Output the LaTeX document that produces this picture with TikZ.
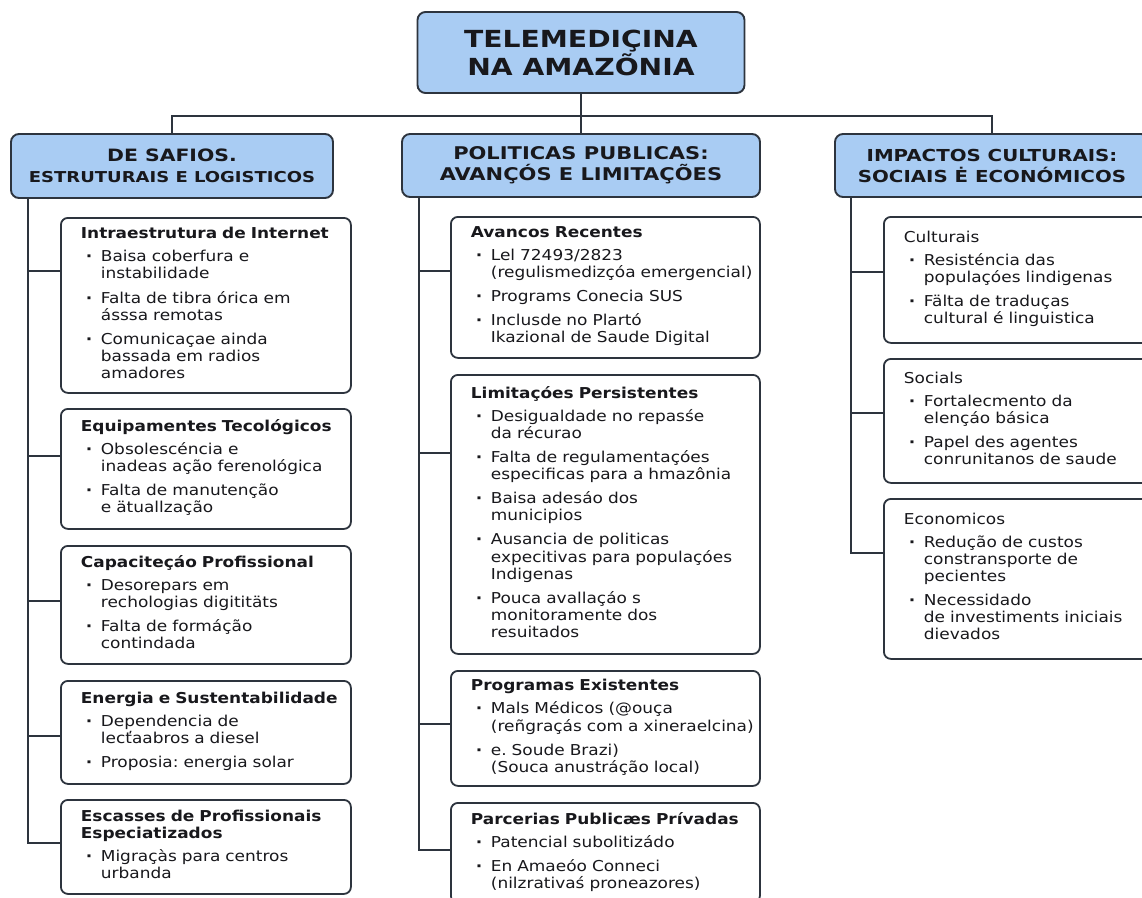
\documentclass[tikz,border=0pt]{standalone}
\usepackage{fontspec}
\setmainfont{DejaVu Sans}[FakeStretch=1.13]
\newfontfamily\headfont{DejaVu Sans}[FakeStretch=1.2]
\usepackage{tikz}
\usetikzlibrary{positioning, calc}
\definecolor{headblue}{RGB}{169,204,243}
\definecolor{edge}{RGB}{45,52,62}
\definecolor{ink}{RGB}{24,24,28}
\tikzstyle{head}=[draw=edge, line width=1.9pt, fill=headblue, rounded corners=8pt, align=center, text=ink, inner sep=0pt]
\tikzstyle{card}=[draw=edge, line width=1.8pt, fill=white, rounded corners=7pt, anchor=north west, align=left, text=ink, inner xsep=20pt, inner ysep=0pt, font=\fontsize{15}{17}\selectfont]
\tikzstyle{lcard}=[card, text width=250pt]
\tikzstyle{mcard}=[card, text width=269pt]
\tikzstyle{rcard}=[card, text width=235pt]
\tikzstyle{link}=[draw=edge, line width=1.8pt]
\newcommand\ttl[1]{\mbox{\bfseries #1}}
\newcommand\itm[1]{\makebox[20pt][l]{\hspace{5pt}\textbf{·}}\begin{tabular}[t]{@{}l@{}}#1\end{tabular}}
\frenchspacing

\begin{document}
\begin{tikzpicture}[x=1pt, y=-1pt]
    \useasboundingbox (0,0) rectangle (1142,897);

    % top and the three branches
    \node[head, minimum width=327pt, minimum height=81pt,
          font=\headfont\bfseries\fontsize{23.5}{28}\selectfont] (titulo) at (581,52.5)
        {TELEMEDIÇINA\\NA AMAZÕNIA};
    \node[head, minimum width=322pt, minimum height=64pt,
          font=\headfont\bfseries\fontsize{17}{21}\selectfont] (desafios) at (172,166)
        {DE SAFIOS.\\{\fontsize{15}{17}\selectfont ESTRUTURAIS E LOGISTICOS}};
    \node[head, minimum width=358pt, minimum height=63pt,
          font=\headfont\bfseries\fontsize{17.5}{21}\selectfont] (politicas) at (581,165.5)
        {POLITICAS PUBLICAS:\\AVANÇÓS E LIMITAÇÕES};
    \node[head, minimum width=314pt, minimum height=63pt,
          font=\headfont\bfseries\fontsize{16.5}{21}\selectfont] (impactos) at (992,165.5)
        {IMPACTOS CULTURAIS:\\SOCIAIS Ė ECONÓMICOS};

    % left column
    \node[lcard, minimum height=175pt] (l1) at (60,217) {\ttl{Intraestrutura de Internet}\\[6pt]
        \itm{Baisa coberfura e\\instabilidade}\\[6pt]
        \itm{Falta de tibra órica em\\ásssa remotas}\\[6pt]
        \itm{Comunicaçae ainda\\bassada em radios\\amadores}};
    \node[lcard, minimum height=120pt] (l2) at (60,408) {\ttl{Equipamentes Tecológicos}\\[6pt]
        \itm{Obsolescéncia e\\inadeas ação ferenológica}\\[6pt]
        \itm{Falta de manutenção\\e ätuallzação}};
    \node[lcard, minimum height=118pt] (l3) at (60,545) {\ttl{Capaciteçáo Profissional}\\[6pt]
        \itm{Desorepars em\\rechologias digititäts}\\[6pt]
        \itm{Falta de formáção\\contindada}};
    \node[lcard, minimum height=103pt] (l4) at (60,680) {\ttl{Energia e Sustentabilidade}\\[6pt]
        \itm{Dependencia de\\lecťaabros a diesel}\\[6pt]
        \itm{Proposia: energia solar}};
    \node[lcard, minimum height=94pt] (l5) at (60,799) {\ttl{Escasses de Profissionais}\\\ttl{Especiatizados}\\[6pt]
        \itm{Migraçàs para centros\\urbanda}};

    % middle column
    \node[mcard, minimum height=141pt] (m1) at (450,216) {\ttl{Avancos Recentes}\\[6pt]
        \itm{Lel 72493/2823\\(regulismedizçóa emergencial)}\\[6pt]
        \itm{Programs Conecia SUS}\\[6pt]
        \itm{Inclusde no Plartó\\Ikazional de Saude Digital}};
    \node[mcard, minimum height=279pt] (m2) at (450,374) {\ttl{Limitaçóes Persistentes}\\[6pt]
        \itm{Desigualdade no repasśe\\da récurao}\\[6pt]
        \itm{Falta de regulamentaçóes\\especificas para a hmazônia}\\[6pt]
        \itm{Baisa adesáo dos\\municipios}\\[6pt]
        \itm{Ausancia de politicas\\expecitivas para populaçóes\\Indigenas}\\[6pt]
        \itm{Pouca avallaçáo s\\monitoramente dos\\resuitados}};
    \node[mcard, minimum height=115pt] (m3) at (450,670) {\ttl{Programas Existentes}\\[6pt]
        \itm{Mals Médicos (@ouça\\(reñgraçás com a xineraelcina)}\\[6pt]
        \itm{e. Soude Brazi)\\(Souca anustráção local)}};
    \node[mcard, minimum height=100pt] (m4) at (450,802) {\ttl{Parcerias Publicæs Prívadas}\\[6pt]
        \itm{Patencial subolitizádo}\\[6pt]
        \itm{En Amaeóo Conneci\\(nilzrativaś proneazores)}};

    % right column
    \node[rcard, minimum height=126pt] (r1) at (883,216) {Culturais\\[6pt]
        \itm{Resisténcia das\\populaçóes lindigenas}\\[6pt]
        \itm{Fälta de traduças\\cultural é linguistica}};
    \node[rcard, minimum height=124pt] (r2) at (883,358) {Socials\\[6pt]
        \itm{Fortalecmento da\\elençáo básica}\\[6pt]
        \itm{Papel des agentes\\conrunitanos de saude}};
    \node[rcard, minimum height=160pt] (r3) at (883,498) {Economicos\\[6pt]
        \itm{Redução de custos\\constransporte de\\pecientes}\\[6pt]
        \itm{Necessidado\\de investiments iniciais\\dievados}};

    % tree lines
    \coordinate (bus) at ($(titulo.south)+(0,22)$);
    \draw[link] (titulo) -- (politicas);
    \draw[link] (desafios.north) |- (bus) -| (impactos.north);

    \coordinate (lspine) at ([xshift=18pt]desafios.south west);
    \coordinate (mspine) at ([xshift=18pt]politicas.south west);
    \coordinate (rspine) at ([xshift=17pt]impactos.south west);

    \foreach \b/\s in {l1/34.5, l2/13, l3/4, l4/-3.5, l5/4, m1/16.5, m2/61.5, m3/4.5, m4/3, r1/8, r2/8, r3/26}
    \coordinate (\b-in) at ([yshift=\s pt]\b.west);

    \draw[link] (lspine) |- (l5-in);
    \draw[link] (mspine) |- (m4-in);
    \draw[link] (rspine) |- (r3-in);

    \foreach \b in {l1,l2,l3,l4}
    \draw[link] (\b-in) -- (\b-in -| lspine);
    \foreach \b in {m1,m2,m3}
    \draw[link] (\b-in) -- (\b-in -| mspine);
    \foreach \b in {r1,r2}
    \draw[link] (\b-in) -- (\b-in -| rspine);

\end{tikzpicture}
\end{document}
